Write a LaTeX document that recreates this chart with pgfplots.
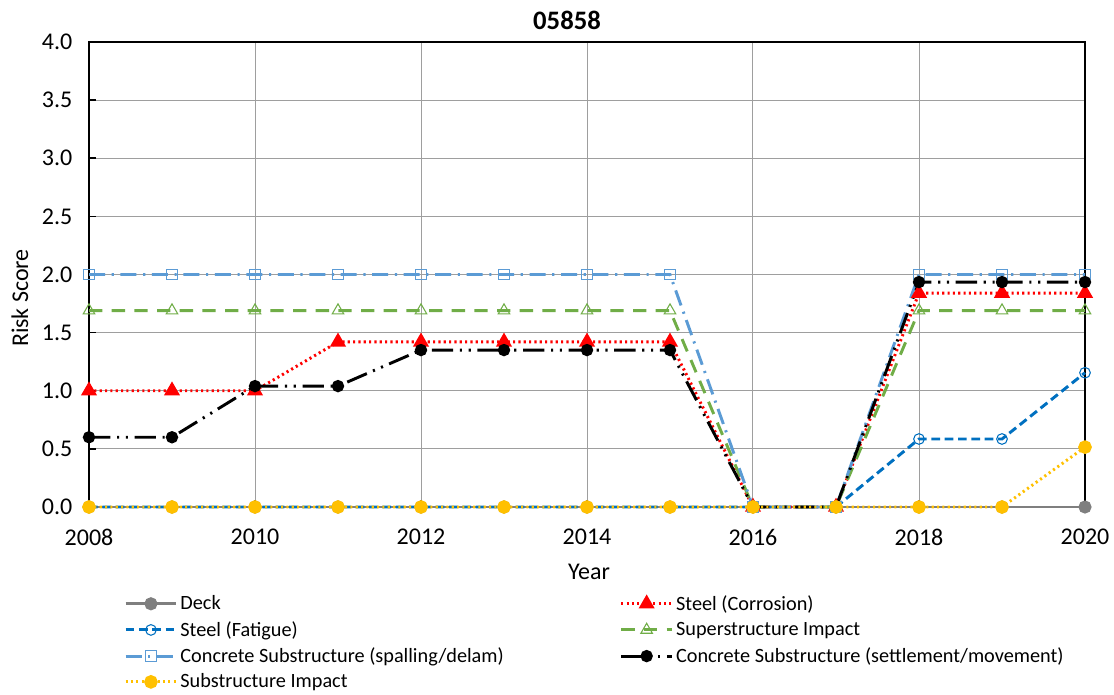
\documentclass[border=0pt]{standalone}
\usepackage{pgfplots}
\pgfplotsset{compat=1.18}
\usepackage{fontspec}
\setmainfont{Carlito}
\definecolor{deckc}{RGB}{127,127,127}
\definecolor{fatc}{RGB}{0,112,192}
\definecolor{supc}{RGB}{112,173,71}
\definecolor{spac}{RGB}{91,155,213}
\definecolor{subc}{RGB}{255,192,0}
\begin{document}
\begin{tikzpicture}
\path[use as bounding box] (0,0) rectangle (835.5pt,520.5pt);
\begin{axis}[
  at={(66.75pt,140.25pt)}, anchor=south west,
  scale only axis, width=747pt, height=348.75pt,
  xmin=2008, xmax=2020, ymin=0, ymax=4,
  xtick={2008,2010,...,2020}, ytick={0,0.5,...,4},
  grid=major, grid style={line width=0.75pt, color=black!38},
  axis line style={line width=1.9pt, black},
  tick style={line width=1.2pt, black}, tick align=inside,
  major tick length=5pt,
  xtick pos=bottom, ytick pos=left,
  /pgf/number format/assume math mode=true,
  x tick label style={/pgf/number format/1000 sep={}, font=\fontsize{18}{20}\selectfont, yshift=-13pt},
  y tick label style={/pgf/number format/fixed, /pgf/number format/precision=1, /pgf/number format/fixed zerofill, font=\fontsize{18}{20}\selectfont, xshift=-9pt},
  clip=false,
  legend columns=2,
  legend cell align=left,
  legend style={draw=none, fill=none, at={(0.031,-0.178)}, anchor=north west,
    font=\fontsize{15.2}{17}\selectfont, row sep=3pt,
    /tikz/every even column/.append style={column sep=85pt}},
  legend image code/.code={\draw[mark repeat=2,mark phase=2,#1] plot coordinates {(0pt,0pt) (19pt,0pt) (38pt,0pt)};},
]
\addplot[deckc, line width=2.2pt, mark=*, mark size=3.8pt, mark options={solid, fill=deckc, draw=deckc}] coordinates {
(2008,0)(2009,0)(2010,0)(2011,0)(2012,0)(2013,0)(2014,0)(2015,0)(2016,0)(2017,0)(2018,0)(2019,0)(2020,0)};
\addlegendentry{Deck}
\addplot[red, line width=2.2pt, dash pattern=on 1.6pt off 2.4pt, mark=triangle*, mark size=4.8pt, mark options={solid, fill=red, draw=red}] coordinates {
(2008,1.0)(2009,1.0)(2010,1.0)(2011,1.42)(2012,1.42)(2013,1.42)(2014,1.42)(2015,1.42)(2016,0)(2017,0)(2018,1.84)(2019,1.84)(2020,1.84)};
\addlegendentry{Steel (Corrosion)}
\addplot[fatc, line width=2.2pt, dash pattern=on 6.5pt off 3.5pt, mark=o, mark size=4pt, mark options={solid, line width=0.8pt, draw=fatc}] coordinates {
(2008,0)(2009,0)(2010,0)(2011,0)(2012,0)(2013,0)(2014,0)(2015,0)(2016,0)(2017,0)(2018,0.585)(2019,0.585)(2020,1.155)};
\addlegendentry{Steel (Fatigue)}
\addplot[supc, line width=2.2pt, dash pattern=on 10pt off 7pt, mark=triangle, mark size=5pt, mark options={solid, line width=0.8pt, draw=supc}] coordinates {
(2008,1.69)(2009,1.69)(2010,1.69)(2011,1.69)(2012,1.69)(2013,1.69)(2014,1.69)(2015,1.69)(2016,0)(2017,0)(2018,1.69)(2019,1.69)(2020,1.69)};
\addlegendentry{Superstructure Impact}
\addplot[spac, line width=2.2pt, dash pattern=on 12pt off 5pt on 1.6pt off 5pt, mark=square, mark size=4pt, mark options={solid, line width=0.8pt, draw=spac}] coordinates {
(2008,2.0)(2009,2.0)(2010,2.0)(2011,2.0)(2012,2.0)(2013,2.0)(2014,2.0)(2015,2.0)(2016,0)(2017,0)(2018,2.0)(2019,2.0)(2020,2.0)};
\addlegendentry{Concrete Substructure (spalling/delam)}
\addplot[black, line width=2.2pt, dash pattern=on 16pt off 5pt on 1.6pt off 5pt on 1.6pt off 5pt, mark=*, mark size=3.5pt, mark options={solid, fill=black}] coordinates {
(2008,0.6)(2009,0.6)(2010,1.04)(2011,1.04)(2012,1.35)(2013,1.35)(2014,1.35)(2015,1.35)(2016,0)(2017,0)(2018,1.935)(2019,1.935)(2020,1.935)};
\addlegendentry{Concrete Substructure (settlement/movement)}
\addplot[subc, line width=2.2pt, dash pattern=on 1.6pt off 2.4pt, mark=*, mark size=4pt, mark options={solid, fill=subc, draw=subc}] coordinates {
(2008,0)(2009,0)(2010,0)(2011,0)(2012,0)(2013,0)(2014,0)(2015,0)(2016,0)(2017,0)(2018,0)(2019,0)(2020,0.515)};
\addlegendentry{Substructure Impact}
\end{axis}
\node[font=\bfseries\fontsize{20}{22}\selectfont] at (425.25pt,505.5pt) {05858};
\node[font=\fontsize{18}{20}\selectfont] at (441.75pt,91.5pt) {Year};
\node[font=\fontsize{18}{20}\selectfont, rotate=90] at (15pt,297pt) {Risk Score};
\end{tikzpicture}
\end{document}
